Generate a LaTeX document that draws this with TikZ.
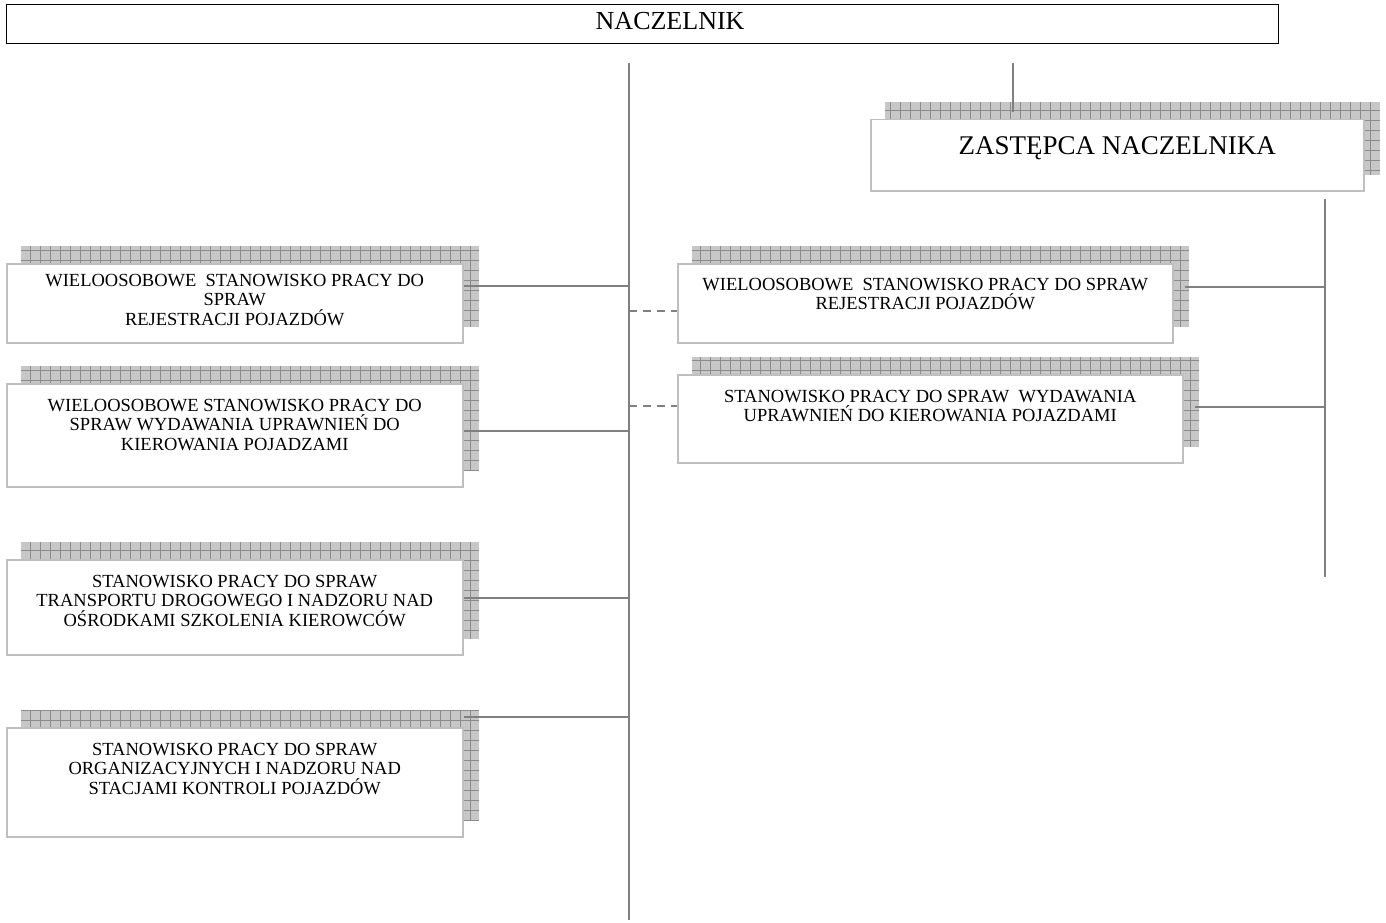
\documentclass[tikz,border=0pt]{standalone}
\usepackage{fontspec}
\setmainfont{Liberation Serif}
\usetikzlibrary{positioning,backgrounds}
% text block: width, height, top gap, lines
\newcommand{\boxlines}[4]{\parbox[c][#2][t]{#1}{\centering\vspace*{#3}#4}}

\begin{document}
\begin{tikzpicture}[
        x=1pt, y=-1pt,
        % --- STYLE ---
        unitbox/.style={
            rectangle,
            draw=black!25,
            line width=1.5pt,
            fill=white,
            inner sep=0pt,
            anchor=north west,
            font=\fontsize{18.5}{19.5}\selectfont
        },
        headbox/.style={
            unitbox,
            draw=black,
            line width=1.2pt,
            font=\fontsize{26}{28}\selectfont
        },
        % cien pod ramka
        shadowbox/.style={fill=black!22},
        shadowgrid/.style={draw=black!45, line width=0.5pt},
        % linie
        link/.style={draw=gray, line width=1.5pt},
        dashlink/.style={link, dash pattern=on 8pt off 6pt}
    ]

        \useasboundingbox (0,0) rectangle (1386,923);

        % --- NACZELNIK ---
        \node[headbox] (head) at (6,4)
            {\boxlines{1272pt}{39pt}{8pt}{\hspace*{55pt}NACZELNIK}};

        % --- ZASTEPCA ---
        \node[unitbox, font=\fontsize{27}{29}\selectfont] (deputy) at (870,119)
            {\boxlines{493pt}{71pt}{17pt}{ZASTĘPCA NACZELNIKA}};

        % --- STANOWISKA (lewa strona) ---
        \node[unitbox] (rej) at (6,263)
            {\boxlines{456pt}{79pt}{10pt}{WIELOOSOBOWE\ \ STANOWISKO PRACY DO\\SPRAW\\REJESTRACJI POJAZDÓW}};
        \node[unitbox] (upr) at (6,383)
            {\boxlines{456pt}{103pt}{15pt}{WIELOOSOBOWE STANOWISKO PRACY DO\\SPRAW WYDAWANIA UPRAWNIEŃ DO\\KIEROWANIA POJADZAMI}};
        \node[unitbox] (trans) at (6,559)
            {\boxlines{456pt}{95pt}{15pt}{STANOWISKO PRACY DO SPRAW\\TRANSPORTU DROGOWEGO I NADZORU NAD\\OŚRODKAMI SZKOLENIA KIEROWCÓW}};
        \node[unitbox] (skp) at (6,727)
            {\boxlines{456pt}{109pt}{15pt}{STANOWISKO PRACY DO SPRAW\\ORGANIZACYJNYCH I NADZORU NAD\\STACJAMI KONTROLI POJAZDÓW}};

        % --- STANOWISKA (prawa strona) ---
        \node[unitbox] (zrej) at (677,263)
            {\boxlines{495pt}{79pt}{14pt}{WIELOOSOBOWE\ \ STANOWISKO PRACY DO SPRAW\\REJESTRACJI POJAZDÓW}};
        \node[unitbox] (zupr) at (677,374)
            {\boxlines{505pt}{88pt}{15pt}{STANOWISKO PRACY DO SPRAW\ \ WYDAWANIA\\UPRAWNIEŃ DO KIEROWANIA POJAZDAMI}};

        % --- CIENIE ---
        \begin{scope}[on background layer]
            \foreach \b in {deputy, rej, upr, trans, skp, zrej, zupr} {
                \fill[shadowbox] ([shift={(15,-17)}]\b.north west) rectangle ([shift={(15,-17)}]\b.south east);
                \draw[shadowgrid] ([shift={(15,-17)}]\b.north west) grid[step=10pt] ([shift={(15,-17)}]\b.south east);
            }
        \end{scope}

        % --- LINIE PIONOWE ---
        \coordinate (trunktop) at (629,63);
        \coordinate (trunkend) at (629,920);
        \draw[link] (trunktop) -- (trunkend);

        \coordinate (deptop) at (1013,63);
        \draw[link, shorten >=7pt] (deptop) -- (deptop |- deputy.north);

        \coordinate (deptrunktop) at (1325,199);
        \coordinate (deptrunkend) at (1325,577);
        \draw[link] (deptrunktop) -- (deptrunkend);

        % --- LINIE POZIOME ---
        \foreach \b/\y in {rej/286, upr/431, trans/598, skp/717}
            \draw[link] (\b.east |- 0,\y) -- (trunktop |- 0,\y);

        \foreach \b/\y in {zrej/311, zupr/406}
            \draw[dashlink] (trunktop |- 0,\y) -- (\b.west |- 0,\y);

        \foreach \b/\y in {zrej/287, zupr/407}
            \draw[link] ([xshift=11pt]\b.east |- 0,\y) -- (deptrunktop |- 0,\y);

    \end{tikzpicture}
\end{document}
